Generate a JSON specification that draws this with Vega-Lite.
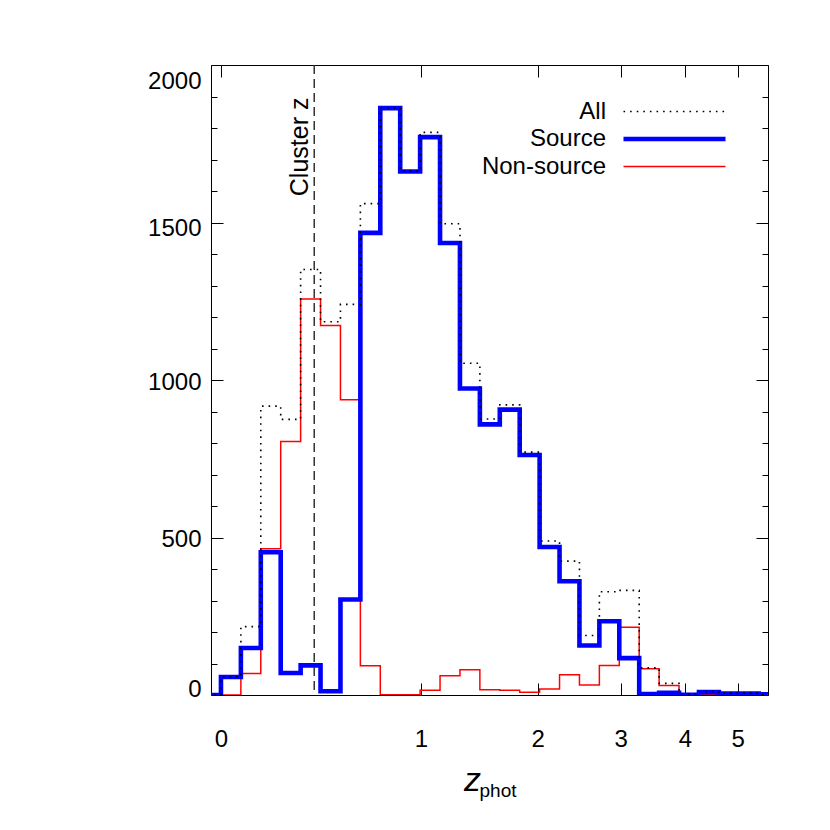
{
  "$schema": "https://vega.github.io/schema/vega-lite/v6.json",
  "width": 557,
  "height": 630,
  "autosize": {"type": "none"},
  "padding": {"left": 211, "top": 65, "right": 62, "bottom": 135},
  "background": "white",
  "config": {
    "view": {"stroke": "black", "strokeWidth": 1},
    "axis": {"grid": false, "domain": false, "tickColor": "black", "tickWidth": 1, "labelColor": "black", "titleColor": "black"},
    "legend": {
      "orient": "none", "legendX": 451, "legendY": 34.5,
      "labelAlign": "right", "labelOffset": -81, "labelFont": "Liberation Sans", "labelFontSize": 24,
      "labelColor": "black", "symbolType": "M-5.1,0H5.1", "symbolSize": 400, "rowPadding": 3, "padding": 0, "labelLimit": 300
    }
  },
  "datasets": {
    "hist": [
      {"series": "Source", "lz": -0.03, "count": 0},
      {"series": "Source", "lz": 0.0, "count": 57},
      {"series": "Source", "lz": 0.03, "count": 149},
      {"series": "Source", "lz": 0.06, "count": 453},
      {"series": "Source", "lz": 0.09, "count": 70},
      {"series": "Source", "lz": 0.12, "count": 94},
      {"series": "Source", "lz": 0.15, "count": 12},
      {"series": "Source", "lz": 0.18, "count": 303},
      {"series": "Source", "lz": 0.21, "count": 1467},
      {"series": "Source", "lz": 0.24, "count": 1863},
      {"series": "Source", "lz": 0.27, "count": 1662},
      {"series": "Source", "lz": 0.30, "count": 1771},
      {"series": "Source", "lz": 0.33, "count": 1435},
      {"series": "Source", "lz": 0.36, "count": 973},
      {"series": "Source", "lz": 0.39, "count": 859},
      {"series": "Source", "lz": 0.42, "count": 906},
      {"series": "Source", "lz": 0.45, "count": 762},
      {"series": "Source", "lz": 0.48, "count": 470},
      {"series": "Source", "lz": 0.51, "count": 361},
      {"series": "Source", "lz": 0.54, "count": 157},
      {"series": "Source", "lz": 0.57, "count": 234},
      {"series": "Source", "lz": 0.60, "count": 117},
      {"series": "Source", "lz": 0.63, "count": 3},
      {"series": "Source", "lz": 0.66, "count": 7},
      {"series": "Source", "lz": 0.69, "count": 1},
      {"series": "Source", "lz": 0.72, "count": 9},
      {"series": "Source", "lz": 0.75, "count": 5},
      {"series": "Source", "lz": 0.78, "count": 5},
      {"series": "Source", "lz": 0.81, "count": 2},
      {"series": "Source", "lz": 0.84, "count": 2},
      {"series": "Non-source", "lz": -0.03, "count": 0},
      {"series": "Non-source", "lz": 0.0, "count": 0},
      {"series": "Non-source", "lz": 0.03, "count": 68},
      {"series": "Non-source", "lz": 0.06, "count": 464},
      {"series": "Non-source", "lz": 0.09, "count": 805},
      {"series": "Non-source", "lz": 0.12, "count": 1257},
      {"series": "Non-source", "lz": 0.15, "count": 1173},
      {"series": "Non-source", "lz": 0.18, "count": 937},
      {"series": "Non-source", "lz": 0.21, "count": 93},
      {"series": "Non-source", "lz": 0.24, "count": 1},
      {"series": "Non-source", "lz": 0.27, "count": 1},
      {"series": "Non-source", "lz": 0.30, "count": 15},
      {"series": "Non-source", "lz": 0.33, "count": 61},
      {"series": "Non-source", "lz": 0.36, "count": 80},
      {"series": "Non-source", "lz": 0.39, "count": 17},
      {"series": "Non-source", "lz": 0.42, "count": 15},
      {"series": "Non-source", "lz": 0.45, "count": 9},
      {"series": "Non-source", "lz": 0.48, "count": 19},
      {"series": "Non-source", "lz": 0.51, "count": 64},
      {"series": "Non-source", "lz": 0.54, "count": 32},
      {"series": "Non-source", "lz": 0.57, "count": 94},
      {"series": "Non-source", "lz": 0.60, "count": 215},
      {"series": "Non-source", "lz": 0.63, "count": 83},
      {"series": "Non-source", "lz": 0.66, "count": 30},
      {"series": "Non-source", "lz": 0.69, "count": 3},
      {"series": "Non-source", "lz": 0.72, "count": 2},
      {"series": "Non-source", "lz": 0.75, "count": 1},
      {"series": "Non-source", "lz": 0.78, "count": 1},
      {"series": "Non-source", "lz": 0.81, "count": 0},
      {"series": "Non-source", "lz": 0.84, "count": 0},
      {"series": "All", "lz": -0.03, "count": 0},
      {"series": "All", "lz": 0.0, "count": 57},
      {"series": "All", "lz": 0.03, "count": 217},
      {"series": "All", "lz": 0.06, "count": 917},
      {"series": "All", "lz": 0.09, "count": 875},
      {"series": "All", "lz": 0.12, "count": 1351},
      {"series": "All", "lz": 0.15, "count": 1185},
      {"series": "All", "lz": 0.18, "count": 1240},
      {"series": "All", "lz": 0.21, "count": 1560},
      {"series": "All", "lz": 0.24, "count": 1864},
      {"series": "All", "lz": 0.27, "count": 1663},
      {"series": "All", "lz": 0.30, "count": 1786},
      {"series": "All", "lz": 0.33, "count": 1496},
      {"series": "All", "lz": 0.36, "count": 1053},
      {"series": "All", "lz": 0.39, "count": 876},
      {"series": "All", "lz": 0.42, "count": 921},
      {"series": "All", "lz": 0.45, "count": 771},
      {"series": "All", "lz": 0.48, "count": 489},
      {"series": "All", "lz": 0.51, "count": 425},
      {"series": "All", "lz": 0.54, "count": 189},
      {"series": "All", "lz": 0.57, "count": 328},
      {"series": "All", "lz": 0.60, "count": 332},
      {"series": "All", "lz": 0.63, "count": 86},
      {"series": "All", "lz": 0.66, "count": 37},
      {"series": "All", "lz": 0.69, "count": 4},
      {"series": "All", "lz": 0.72, "count": 11},
      {"series": "All", "lz": 0.75, "count": 6},
      {"series": "All", "lz": 0.78, "count": 6},
      {"series": "All", "lz": 0.81, "count": 2},
      {"series": "All", "lz": 0.84, "count": 2}
    ],
    "cluster": [{"lz": 0.1405, "label": "Cluster z"}]
  },
  "resolve": {"axis": {"x": "independent", "y": "independent"}},
  "layer": [
    {
      "data": {"name": "hist"},
      "transform": [{"filter": "datum.series === 'Non-source'"}],
      "mark": {"type": "line", "interpolate": "step-after", "clip": true, "strokeJoin": "miter"},
      "encoding": {
        "x": {
          "field": "lz", "type": "quantitative",
          "scale": {"domain": [-0.015, 0.824], "nice": false, "zero": false},
          "axis": {
            "orient": "bottom", "values": [0, 0.30103, 0.47712, 0.60206, 0.69897, 0.77815],
            "labelExpr": "format(round(pow(10, datum.value) - 1), 'd')",
            "tickSize": -12, "labelPadding": 63.7, "labelBaseline": "alphabetic",
            "labelFont": "Liberation Sans", "labelFontSize": 24,
            "labelFlush": false, "labelOverlap": false,
            "title": "z", "titleFont": "Liberation Sans", "titleFontStyle": "italic", "titleFontWeight": "normal",
            "titleFontSize": 34, "titleX": 261, "titleY": 95, "titleAlign": "center", "titleBaseline": "alphabetic"
          }
        },
        "y": {
          "field": "count", "type": "quantitative",
          "scale": {"domain": [0, 2000], "nice": false, "zero": true},
          "axis": {
            "orient": "left",
            "values": [0,100,200,300,400,500,600,700,800,900,1000,1100,1200,1300,1400,1500,1600,1700,1800,1900,2000],
            "format": "d",
            "labelExpr": "datum.value % 500 === 0 ? datum.label : ''",
            "tickSize": {"condition": {"test": "datum.value % 500 === 0", "value": -12}, "value": -6},
            "labelPadding": 22, "labelFont": "Liberation Sans", "labelFontSize": 24,
            "labelBaseline": "alphabetic",
            "labelOffset": {"condition": [{"test": "datum.value === 0", "value": 1}, {"test": "datum.value === 2000", "value": 23.3}, {"test": "datum.value === 1500", "value": 12.8}], "value": 9.3},
            "labelFlush": false, "labelOverlap": false, "title": null
          }
        },
        "color": {"field": "series", "type": "nominal", "title": null, "scale": {"domain": ["All", "Source", "Non-source"], "range": ["black", "#0000ff", "#ff0000"]}},
        "strokeDash": {"field": "series", "type": "nominal", "title": null, "scale": {"domain": ["All", "Source", "Non-source"], "range": [[1.6, 5], [1, 0], [1, 0]]}},
        "strokeWidth": {"field": "series", "type": "nominal", "title": null, "scale": {"type": "ordinal", "domain": ["All", "Source", "Non-source"], "range": [1.6, 4.6, 1.5]}}
      }
    },
    {
      "data": {"name": "hist"},
      "transform": [{"filter": "datum.series === 'Source'"}],
      "mark": {"type": "line", "interpolate": "step-after", "clip": true, "strokeJoin": "miter"},
      "encoding": {
        "x": {
          "field": "lz", "type": "quantitative",
          "axis": {
            "orient": "top", "values": [0, 0.30103, 0.47712, 0.60206, 0.69897, 0.77815],
            "labels": false, "tickSize": -12,
            "title": "phot", "titleFont": "Liberation Sans", "titleFontWeight": "normal", "titleFontSize": 19,
            "titleX": 268, "titleY": 731, "titleAlign": "left", "titleBaseline": "alphabetic"
          }
        },
        "y": {
          "field": "count", "type": "quantitative",
          "axis": {
            "orient": "right",
            "values": [0,100,200,300,400,500,600,700,800,900,1000,1100,1200,1300,1400,1500,1600,1700,1800,1900,2000],
            "labels": false,
            "tickSize": {"condition": {"test": "datum.value % 500 === 0", "value": -12}, "value": -6},
            "title": null
          }
        },
        "color": {"field": "series", "type": "nominal", "title": null, "scale": {"domain": ["All", "Source", "Non-source"], "range": ["black", "#0000ff", "#ff0000"]}},
        "strokeDash": {"field": "series", "type": "nominal", "title": null, "scale": {"domain": ["All", "Source", "Non-source"], "range": [[1.6, 5], [1, 0], [1, 0]]}},
        "strokeWidth": {"field": "series", "type": "nominal", "title": null, "scale": {"type": "ordinal", "domain": ["All", "Source", "Non-source"], "range": [1.6, 4.6, 1.5]}}
      }
    },
    {
      "data": {"name": "hist"},
      "transform": [{"filter": "datum.series === 'All'"}],
      "mark": {"type": "line", "interpolate": "step-after", "clip": true, "strokeJoin": "miter"},
      "encoding": {
        "x": {"field": "lz", "type": "quantitative", "axis": null},
        "y": {"field": "count", "type": "quantitative", "axis": null},
        "color": {"field": "series", "type": "nominal", "title": null, "scale": {"domain": ["All", "Source", "Non-source"], "range": ["black", "#0000ff", "#ff0000"]}},
        "strokeDash": {"field": "series", "type": "nominal", "title": null, "scale": {"domain": ["All", "Source", "Non-source"], "range": [[1.6, 5], [1, 0], [1, 0]]}},
        "strokeWidth": {"field": "series", "type": "nominal", "title": null, "scale": {"type": "ordinal", "domain": ["All", "Source", "Non-source"], "range": [1.6, 4.6, 1.5]}}
      }
    },
    {
      "data": {"name": "cluster"},
      "mark": {"type": "rule", "strokeDash": [9, 5], "color": "#333333", "strokeWidth": 1.5},
      "encoding": {
        "x": {"field": "lz", "type": "quantitative", "axis": null}
      }
    },
    {
      "data": {"name": "cluster"},
      "mark": {"type": "text", "angle": 270, "align": "center", "baseline": "alphabetic", "dy": -6, "font": "Liberation Sans", "fontSize": 25, "color": "black"},
      "encoding": {
        "x": {"field": "lz", "type": "quantitative", "axis": null},
        "y": {"datum": 1740, "type": "quantitative", "axis": null},
        "text": {"field": "label"}
      }
    }
  ]
}
